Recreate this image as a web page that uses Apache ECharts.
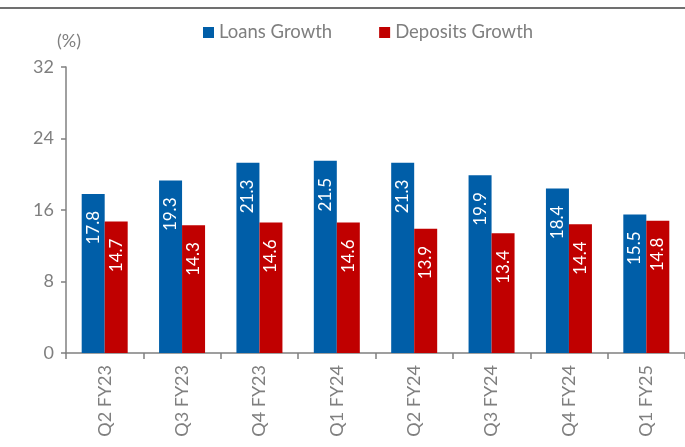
<!DOCTYPE html>
<html>
<head>
<meta charset="utf-8">
<script src="https://cdn.jsdelivr.net/npm/echarts@6/dist/echarts.min.js"></script>
<style>
  html, body { margin: 0; padding: 0; background: #fff; }
  #chart { width: 685px; height: 447px; }
</style>
</head>
<body>
<div id="chart"></div>
<script>
const quarters = ["Q2 FY23", "Q3 FY23", "Q4 FY23", "Q1 FY24", "Q2 FY24", "Q3 FY24", "Q4 FY24", "Q1 FY25"];
const loansGrowth = [17.8, 19.3, 21.3, 21.5, 21.3, 19.9, 18.4, 15.5];
const depositsGrowth = [14.7, 14.3, 14.6, 14.6, 13.9, 13.4, 14.4, 14.8];

const FONT = "Lato, 'DejaVu Sans', sans-serif";
const GREY = "#7f7f7f";

const chart = echarts.init(document.getElementById("chart"), null, { renderer: "canvas" });

function barLabel() {
  return {
    show: true,
    position: "insideTop",
    rotate: 90,
    align: "right",
    verticalAlign: "middle",
    distance: 17,
    color: "#fff",
    fontFamily: FONT,
    fontSize: 17,
    formatter: (p) => p.value.toFixed(1),
  };
}

chart.setOption({
  animation: false,
  textStyle: { fontFamily: FONT },
  graphic: [
    {
      type: "line",
      shape: { x1: 0, y1: 8, x2: 685, y2: 8 },
      style: { stroke: "#404040", lineWidth: 1.5 },
    },
  ],
  legend: {
    left: 198,
    top: 18,
    icon: "rect",
    itemWidth: 11,
    itemHeight: 11,
    itemGap: 47,
    textStyle: { color: GREY, fontSize: 18.5, fontFamily: FONT },
    data: ["Loans Growth", "Deposits Growth"],
  },
  grid: { left: 66, right: -10, top: 67, bottom: 94 },
  xAxis: {
    type: "category",
    data: quarters,
    axisLine: { lineStyle: { color: "#808080", width: 1.5 } },
    axisTick: { show: true, length: 6, lineStyle: { color: "#808080", width: 1.5 } },
    axisLabel: { rotate: 90, margin: 12, color: GREY, fontSize: 18, fontFamily: FONT },
  },
  yAxis: {
    type: "value",
    min: 0,
    max: 32,
    interval: 8,
    name: "(%)",
    nameLocation: "end",
    nameGap: 17,
    nameTextStyle: { color: GREY, fontSize: 18, fontFamily: FONT, padding: [0, 0, 0, 6] },
    axisLine: { show: true, lineStyle: { color: "#808080", width: 1.5 } },
    axisTick: { show: true, length: 5, lineStyle: { color: "#808080", width: 1.5 } },
    axisLabel: { margin: 12, color: GREY, fontSize: 18, fontFamily: FONT },
    splitLine: { show: false },
  },
  series: [
    {
      name: "Loans Growth",
      type: "bar",
      data: loansGrowth,
      barWidth: 23,
      barGap: "0%",
      itemStyle: { color: "#005ea8" },
      label: barLabel(),
    },
    {
      name: "Deposits Growth",
      type: "bar",
      data: depositsGrowth,
      barWidth: 23,
      itemStyle: { color: "#c00000" },
      label: barLabel(),
    },
  ],
});
</script>
</body>
</html>
